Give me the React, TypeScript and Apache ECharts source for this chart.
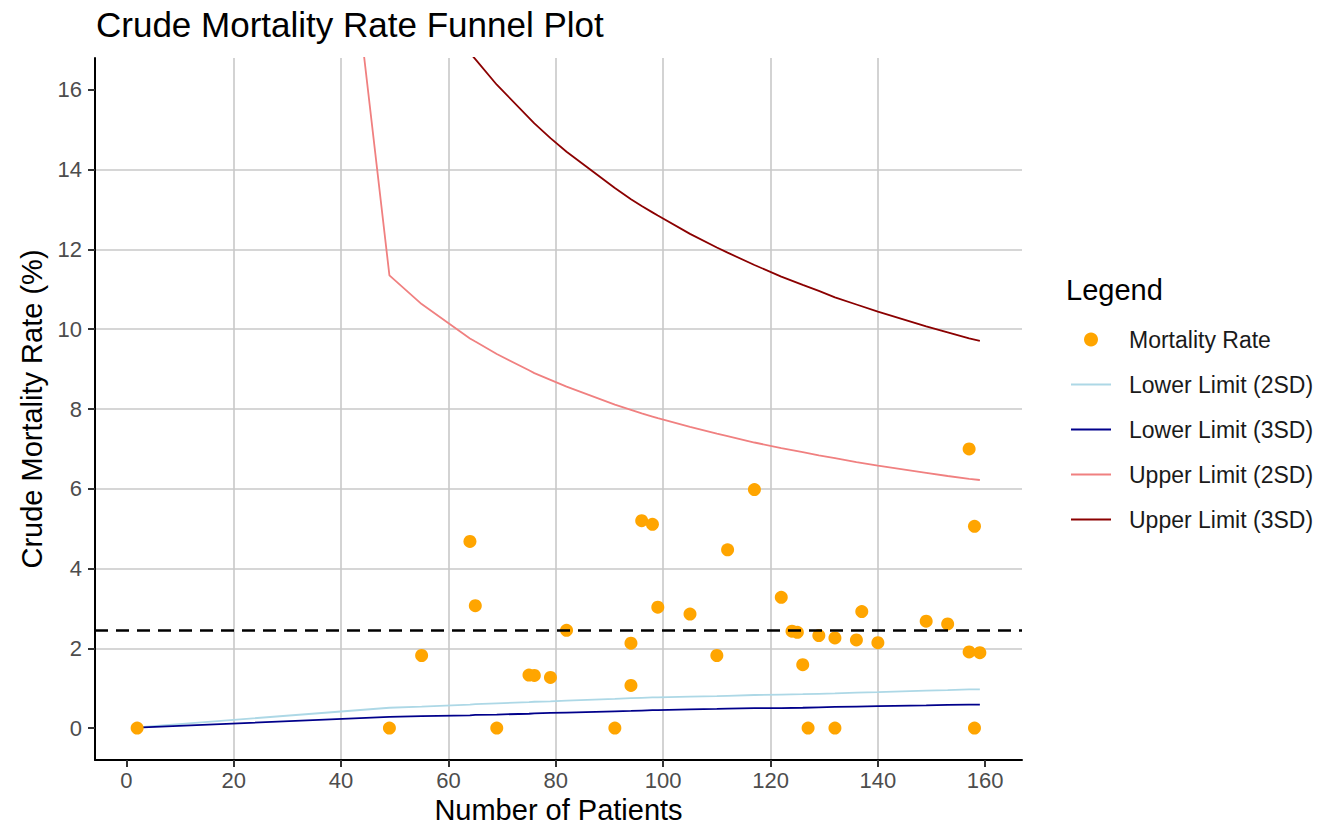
import React, { useEffect, useRef } from "react";
import * as echarts from "echarts";

// Scatter data: number of patients and crude mortality rate (%)
const patients = [2, 49, 55, 64, 65, 69, 75, 76, 79, 82, 91, 94, 94, 96, 98, 99, 105, 110, 112, 117, 122, 124, 125, 126, 127, 129, 132, 132, 136, 137, 140, 149, 153, 157, 157, 158, 158, 159];
const mortality = [0, 0, 1.82, 4.68, 3.07, 0, 1.33, 1.32, 1.27, 2.45, 0, 2.13, 1.07, 5.2, 5.11, 3.03, 2.86, 1.82, 4.47, 5.98, 3.28, 2.43, 2.4, 1.59, 0, 2.32, 2.26, 0, 2.21, 2.92, 2.14, 2.68, 2.61, 7.0, 1.91, 5.06, 0, 1.89];

// Control limits
const limitN = [2, 49, 55, 64, 65, 69, 75, 76, 79, 82, 91, 94, 96, 98, 99, 105, 110, 112, 117, 122, 126, 129, 132, 136, 140, 149, 153, 157, 159];
const lower2 = [0.02, 0.51, 0.54, 0.59, 0.6, 0.62, 0.65, 0.66, 0.67, 0.69, 0.73, 0.75, 0.76, 0.77, 0.77, 0.79, 0.8, 0.81, 0.83, 0.84, 0.85, 0.86, 0.87, 0.89, 0.9, 0.94, 0.95, 0.97, 0.97];
const lower3 = [0.01, 0.28, 0.3, 0.32, 0.33, 0.34, 0.36, 0.37, 0.38, 0.39, 0.42, 0.43, 0.44, 0.45, 0.45, 0.47, 0.48, 0.49, 0.5, 0.5, 0.51, 0.52, 0.53, 0.54, 0.55, 0.57, 0.58, 0.59, 0.59];
const upper2 = [66, 11.35, 10.63, 9.77, 9.69, 9.38, 8.97, 8.9, 8.73, 8.56, 8.11, 7.98, 7.89, 7.81, 7.77, 7.55, 7.38, 7.32, 7.16, 7.02, 6.92, 6.84, 6.77, 6.67, 6.58, 6.4, 6.32, 6.25, 6.22];
const upper3 = [120, 20.19, 18.71, 16.93, 16.77, 16.13, 15.3, 15.16, 14.79, 14.45, 13.54, 13.26, 13.09, 12.93, 12.85, 12.39, 12.05, 11.92, 11.61, 11.32, 11.11, 10.96, 10.8, 10.62, 10.44, 10.07, 9.92, 9.77, 9.71];
const benchmark = 2.45;

const xTicks = [0, 20, 40, 60, 80, 100, 120, 140, 160];
const yTicks = [0, 2, 4, 6, 8, 10, 12, 14, 16];

const FONT = "'Liberation Sans', Arial, sans-serif";

export default function App() {
  const ref = useRef<HTMLDivElement>(null);
  useEffect(() => {
    if (!ref.current) return;
    const chart = echarts.init(ref.current, undefined, { renderer: "svg" });
    const lineSeries = (name: string, vals: number[], color: string, width: number) => ({
      name,
      type: "line",
      data: limitN.map((n, i) => [n, vals[i]]),
      showSymbol: false,
      symbol: "none",
      clip: true,
      lineStyle: { color, width },
      itemStyle: { color },
      z: 2,
    });
    const lineLegend = (name: string) => ({ name, itemStyle: { opacity: 0 } });
    chart.setOption({
      animation: false,
      textStyle: { fontFamily: FONT },
      title: [
        {
          text: "Crude Mortality Rate Funnel Plot",
          left: 91,
          top: 2,
          textStyle: { fontFamily: FONT, fontSize: 35, fontWeight: "normal", color: "#000" },
        },
        {
          text: "Legend",
          left: 1061,
          top: 270,
          textStyle: { fontFamily: FONT, fontSize: 29, fontWeight: "normal", color: "#000" },
        },
      ],
      legend: {
        orient: "vertical",
        left: 1070,
        top: 328,
        itemWidth: 40,
        itemHeight: 14,
        itemGap: 22,
        padding: 0,
        data: [
          "Mortality Rate",
          lineLegend("Lower Limit (2SD)"),
          lineLegend("Lower Limit (3SD)"),
          lineLegend("Upper Limit (2SD)"),
          lineLegend("Upper Limit (3SD)"),
        ],
        textStyle: { fontFamily: FONT, fontSize: 23, lineHeight: 23, color: "#1a1a1a", padding: [0, 0, 0, 13] },
      },
      grid: { left: 95, right: 305, top: 58, bottom: 65, containLabel: false, outerBoundsMode: "none" },
      xAxis: {
        type: "value",
        min: -5.85,
        max: 166.85,
        interval: 20,
        name: "Number of Patients",
        nameLocation: "middle",
        nameGap: 31,
        nameTextStyle: { fontFamily: FONT, fontSize: 29, color: "#000" },
        axisLine: { show: true, onZero: false, lineStyle: { color: "#000", width: 2 } },
        axisTick: { show: true, customValues: xTicks, length: 7, lineStyle: { color: "#333", width: 2 } },
        axisLabel: { customValues: xTicks, fontSize: 22, color: "#4d4d4d", margin: 9, fontFamily: FONT },
        splitLine: { show: true, showMinLine: false, showMaxLine: false, lineStyle: { color: "#c8c8c8", width: 1.6 } },
      },
      yAxis: {
        type: "value",
        min: -0.8,
        max: 16.8,
        interval: 2,
        name: "Crude Mortality Rate (%)",
        nameLocation: "middle",
        nameGap: 45,
        nameTextStyle: { fontFamily: FONT, fontSize: 29, color: "#000" },
        axisLine: { show: true, onZero: false, lineStyle: { color: "#000", width: 2 } },
        axisTick: { show: true, customValues: yTicks, length: 7, lineStyle: { color: "#333", width: 2 } },
        axisLabel: { customValues: yTicks, fontSize: 22, color: "#4d4d4d", margin: 13, fontFamily: FONT },
        splitLine: { show: true, showMinLine: false, showMaxLine: false, lineStyle: { color: "#c8c8c8", width: 1.6 } },
      },
      series: [
        {
          name: "Mortality Rate",
          type: "scatter",
          data: patients.map((n, i) => [n, mortality[i]]),
          symbol: "circle",
          symbolSize: 13,
          itemStyle: { color: "#FFA500", opacity: 1 },
          z: 3,
          markLine: {
            silent: true,
            symbol: "none",
            label: { show: false },
            lineStyle: { color: "#000", type: [13, 8], width: 2.5 },
            data: [{ yAxis: benchmark }],
          },
        },
        lineSeries("Lower Limit (2SD)", lower2, "#ADD8E6", 1.8),
        lineSeries("Lower Limit (3SD)", lower3, "#00008B", 1.8),
        lineSeries("Upper Limit (2SD)", upper2, "#F08080", 1.8),
        lineSeries("Upper Limit (3SD)", upper3, "#8B0000", 1.8),
      ],
    });
    return () => chart.dispose();
  }, []);
  return <div ref={ref} style={{ position: "absolute", left: 0, top: 0, width: 1327, height: 825 }} />;
}
